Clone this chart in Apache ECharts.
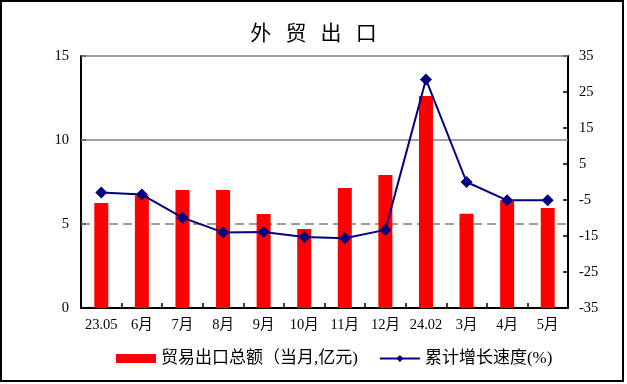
<!DOCTYPE html>
<html>
<head>
<meta charset="utf-8">
<script src="https://cdn.jsdelivr.net/npm/echarts@6/dist/echarts.min.js"></script>
<style>
html,body{margin:0;padding:0;background:#fff;}
#c{width:627px;height:384px;}
</style>
</head>
<body>
<div id="c"></div>
<script>
var categories = ['23.05','6月','7月','8月','9月','10月','11月','12月','24.02','3月','4月','5月'];
var exportTotal = [6.25, 6.7, 7.02, 7.02, 5.6, 4.7, 7.14, 7.92, 12.62, 5.61, 6.4, 5.95];
var cumGrowth = [-2.9, -3.5, -9.9, -14.0, -13.9, -15.3, -15.6, -13.3, 28.5, 0.0, -5.1, -5.1];
var leftTicks = [0, 15, 5];   // min, max, interval
var rightTicks = [-35, 35, 10];
var seriesNames = ['贸易出口总额（当月,亿元)', '累计增长速度(%)'];
var titleText = '外   贸   出   口';

var serif = '"Liberation Serif","Noto Sans CJK SC",serif';
var chart = echarts.init(document.getElementById('c'));
chart.setOption({
  animation: false,
  backgroundColor: '#fff',
  title: {
    text: titleText,
    left: 'center',
    top: 17,
    textStyle: {fontFamily: '"Noto Sans CJK SC",sans-serif', fontSize: 21, fontWeight: 'normal', color: '#000'}
  },
  graphic: [{
    type: 'rect',
    shape: {x: 1, y: 1, width: 622, height: 380},
    style: {fill: null, stroke: '#000', lineWidth: 2},
    silent: true
  }],
  legend: {
    left: 116,
    top: 350,
    padding: 0,
    itemWidth: 40,
    itemHeight: 9,
    itemGap: 21,
    textStyle: {fontFamily: serif, fontSize: 17, color: '#000'},
    data: [{name: seriesNames[0], icon: 'rect'}, {name: seriesNames[1]}]
  },
  grid: {left: 81, right: 59, top: 56, bottom: 76},
  xAxis: {
    type: 'category',
    data: categories,
    axisLine: {lineStyle: {color: '#000', width: 2}},
    axisTick: {show: true, inside: true, length: 5, lineStyle: {color: '#000', width: 1.5}},
    axisLabel: {fontFamily: serif, fontSize: 14.5, color: '#000', margin: 10, interval: 0}
  },
  yAxis: [{
    type: 'value',
    min: leftTicks[0], max: leftTicks[1], interval: leftTicks[2],
    axisLine: {show: true, lineStyle: {color: '#000', width: 2}},
    axisTick: {show: true, inside: true, length: 5, lineStyle: {color: '#000', width: 1.5}},
    axisLabel: {fontFamily: serif, fontSize: 14.5, color: '#000', margin: 12},
    splitLine: {show: false}
  }, {
    type: 'value',
    position: 'right',
    min: rightTicks[0], max: rightTicks[1], interval: rightTicks[2],
    axisLine: {show: true, lineStyle: {color: '#000', width: 2}},
    axisTick: {show: true, inside: true, length: 5, lineStyle: {color: '#000', width: 1.5}},
    axisLabel: {fontFamily: serif, fontSize: 14.5, color: '#000', margin: 11},
    splitLine: {show: false}
  }],
  series: [{
    name: seriesNames[0],
    type: 'bar',
    yAxisIndex: 0,
    data: exportTotal,
    barWidth: 14,
    itemStyle: {color: '#ff0000'},
    markLine: {
      silent: true,
      symbol: 'none',
      label: {show: false},
      data: [
        {yAxis: 15, lineStyle: {color: '#808080', width: 1.5, type: 'solid'}},
        {yAxis: 10, lineStyle: {color: '#808080', width: 1.5, type: 'solid'}},
        {yAxis: 5, lineStyle: {color: '#808080', width: 1.5, type: [9, 5]}}
      ],
      z: 1
    },
    z: 2
  }, {
    name: seriesNames[1],
    type: 'line',
    yAxisIndex: 1,
    data: cumGrowth,
    symbol: 'diamond',
    symbolSize: 12,
    lineStyle: {color: '#000080', width: 2},
    itemStyle: {color: '#000080'},
    z: 3
  }]
});
</script>
</body>
</html>
